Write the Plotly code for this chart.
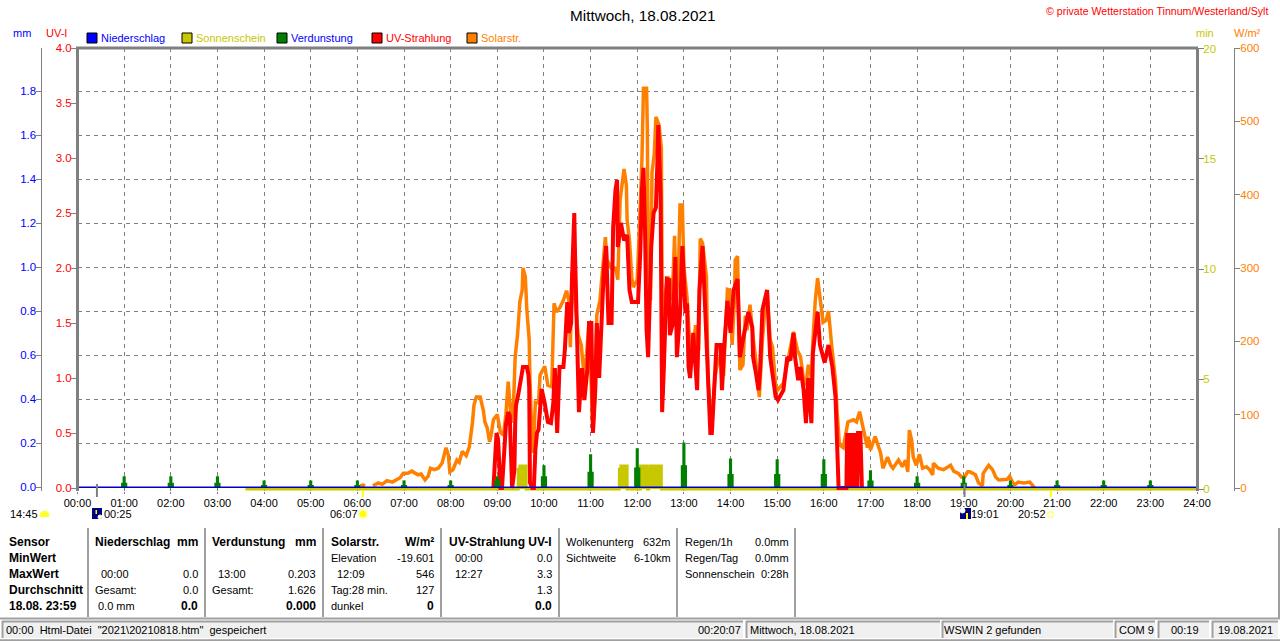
import plotly.graph_objects as go

# values, time in minutes since 00:00
hour_labels = ["%02d:00" % h for h in range(25)]
hour_ticks = [h * 60 for h in range(25)]

uv_labels = ["0.0", "0.5", "1.0", "1.5", "2.0", "2.5", "3.0", "3.5", "4.0"]
uv_ticks = [0, 0.5, 1, 1.5, 2, 2.5, 3, 3.5, 4]
mm_labels = ["0.0", "0.2", "0.4", "0.6", "0.8", "1.0", "1.2", "1.4", "1.6", "1.8"]
mm_ticks = [0, 0.2, 0.4, 0.6, 0.8, 1.0, 1.2, 1.4, 1.6, 1.8]
min_ticks = [0, 5, 10, 15, 20]
wm2_ticks = [0, 100, 200, 300, 400, 500, 600]

# UV-Strahlung (UV-I)
uv_t = [535, 537, 539, 541, 544, 546, 549, 551, 554, 556, 559, 562, 563, 564, 567, 569, 572, 573, 578, 580,
        581, 582, 585, 587, 589, 591, 593, 596, 597, 601, 605, 609, 612, 614, 617, 620, 625, 627, 630, 632,
        635, 636, 639, 640, 643, 645, 649, 652, 656, 658, 661, 663, 666, 668, 671, 674, 677, 680, 683, 687,
        689, 692, 694, 695, 699, 703, 707, 710, 713, 721, 724, 726, 728, 730, 732, 734, 737, 738, 741, 744,
        746, 747, 750, 752, 754, 756, 758, 761, 762, 766, 769, 771, 775, 778, 780, 782, 784, 786, 788, 792,
        797, 800, 804, 807, 811, 814, 816, 820, 822, 827, 829, 832, 836, 840, 844, 849, 850, 852, 856, 863,
        868, 869, 873, 876, 878, 881, 885, 887, 891, 895, 898, 901, 908, 913, 917, 921, 923, 927, 930, 934,
        937, 940, 944, 946, 949, 952, 955, 961, 966, 971, 975, 977, 979, 989, 990, 993, 995, 998, 1000, 1003,
        1004, 1007, 1009]
uv_v = [0, 0.3, 0.5, 0.44, 0, 0, 0.45, 0.57, 0.69, 0.66, 0, 0.16, 0.59, 0.75, 0.85, 0.95, 1.05, 1.1, 1.1, 1.03,
        0.92, 0.05, 0, 0, 0.35, 0.5, 0.53, 0.86, 0.9, 0.77, 0.6, 0.59, 0.77, 1.09, 0.5, 1.1, 1.1, 1.27, 1.69, 1.41,
        1.5, 1.89, 2.5, 2.12, 1.05, 0.69, 1.09, 0.8, 1.09, 1.5, 1.5, 0.5, 0.89, 1.5, 1.0, 1.5, 1.98, 2.2, 1.5, 1.5,
        2.37, 2.71, 2.8, 2.19, 2.41, 2.25, 2.3, 1.8, 1.69, 1.69, 2.16, 2.71, 2.91, 2.35, 1.44, 1.19, 1.8, 2.19, 2.5, 2.55,
        2.98, 3.3, 2.68, 0.69, 1.05, 1.5, 1.9, 1.89, 1.39, 1.5, 2.1, 1.19, 1.59, 2.2, 1.8, 1.59, 1.68, 1.1, 1.0, 1.41,
        0.89, 1.8, 2.2, 1.62, 0.95, 0.5, 0.5, 1.01, 1.3, 1.3, 0.89, 1.3, 1.7, 1.41, 1.8, 1.9, 1.5, 1.19, 1.35, 1.6,
        1.46, 1.19, 1.03, 0.89, 1.07, 1.62, 1.74, 1.8, 1.19, 0.95, 0.83, 0.8, 0.89, 1.19, 1.16, 1.41, 1.19, 0.98, 1.1, 0.89,
        0.59, 1.0, 0.59, 1.23, 1.44, 1.6, 1.3, 1.14, 1.3, 1.1, 0.83, 0.37, 0, 0, 0.5, 0, 0.5, 0, 0.5, 0,
        0.5, 0.5, 0]

# Solarstrahlung (W/m2), None marks the gap after the first blip
solar_t = [364, 367, 370, 375, 380, 387, 392, 398, 405, 411, 415, 419, 425, 430, 436, 438, 442, 447, 451, 454,
           459, 464, 469, 474, 477, 479, 483, 488, 491, 495, 500, 504, 508, 510, 513, 518, 522, 524, 527, 530,
           532, 535, 540, 543, 544, 548, 551, 554, 558, 561, 563, 566, 569, 572, 573, 576, 578, 581, 582, 585,
           586, 589, 593, 595, 598, 601, 605, 610, 613, 616, 621, 625, 629, 632, 634, 636, 640, 644, 648, 652,
           658, 663, 666, 668, 672, 676, 679, 681, 688, 692, 695, 698, 701, 703, 706, 707, 710, 713, 715, 720,
           724, 726, 728, 732, 733, 734, 737, 739, 742, 744, 748, 751, 752, 753, 755, 759, 762, 765, 768, 770,
           773, 775, 778, 780, 784, 788, 792, 795, 799, 801, 804, 809, 811, 814, 818, 820, 824, 827, 829, 831,
           833, 836, 839, 842, 845, 846, 849, 850, 852, 856, 859, 861, 865, 869, 872, 877, 881, 885, 887, 891,
           894, 898, 901, 908, 913, 921, 926, 930, 934, 937, 940, 944, 946, 949, 952, 955, 959, 963, 966, 970,
           975, 977, 980, 985, 991, 998, 1002, 1006, 1011, 1016, 1017, 1020, 1026, 1033, 1036, 1042, 1046, 1049, 1056, 1061,
           1065, 1068, 1070, 1073, 1075, 1079, 1083, 1087, 1092, 1096, 1100, 1101, 1107, 1114, 1123, 1127, 1133, 1137, 1141, 1145,
           1148, 1155, 1159, 1164, 1165, 1172, 1177, 1181, 1185, 1196, 1199, 1203, 1206, 1210, 1217, 1225, 1229, 1231]
solar_v = [3, 4, 3, None, 3, 7, 5, 10, 8, 11, 14, 20, 20, 23, 20, 18, 19, 11, 16, 27,
           25, 27, 34, 55, 45, 22, 25, 38, 35, 50, 44, 56, 89, 113, 124, 124, 106, 90, 82, 63,
           72, 93, 100, 86, 76, 72, 100, 145, 89, 120, 179, 209, 254, 270, 300, 288, 243, 202, 147, 56,
           48, 117, 116, 154, 161, 166, 140, 138, 252, 240, 247, 256, 269, 256, 192, 293, 256, 209, 195, 147,
           225, 75, 134, 236, 256, 311, 342, 311, 297, 301, 284, 393, 425, 435, 413, 365, 338, 286, 274, 284,
           389, 447, 545, 545, 488, 304, 256, 430, 457, 506, 495, 464, 256, 127, 256, 288, 284, 256, 344, 256,
           297, 386, 386, 301, 260, 188, 188, 222, 188, 340, 334, 288, 147, 106, 120, 151, 175, 179, 170, 153,
           202, 271, 270, 195, 256, 311, 316, 235, 161, 168, 235, 215, 250, 205, 179, 124, 202, 256, 270, 202,
           192, 140, 134, 143, 170, 213, 188, 179, 147, 140, 168, 151, 202, 256, 286, 256, 226, 229, 241, 195,
           147, 106, 59, 55, 90, 93, 90, 104, 79, 55, 70, 52, 70, 48, 27, 42, 31, 27, 38, 29,
           38, 22, 79, 65, 42, 31, 46, 27, 29, 25, 18, 34, 27, 25, 31, 23, 20, 15, 15, 22,
           22, 18, 7, 3, 20, 31, 25, 15, 11, 12, 16, 7, 5, 8, 7, 8, 3, 0]

# Sonnenschein (min), step line
sun_t = [216, 567, 569, 577, 697, 699, 707, 724, 733, 735, 737, 751, 1440]
sun_v = [0, 0.9, 1.05, 0, 0.9, 1.05, 0, 1.05, 0, 0.9, 1.05, 0, 0]

# Verdunstung (mm) per full hour, with the lower shoulder beside each spike
evap_hours = [60, 120, 180, 240, 300, 360, 420, 480, 540, 600, 660, 720, 780, 840, 900, 960, 1020, 1080, 1140, 1200, 1260, 1320, 1380]
evap_peak = [0.05, 0.05, 0.05, 0.03, 0.03, 0.03, 0.03, 0.03, 0.05, 0.1, 0.15, 0.177, 0.203, 0.13, 0.127, 0.127, 0.077, 0.05, 0.05, 0.03, 0.03, 0.03, 0.03]
evap_low = [0.02, 0.02, 0.02, 0.01, 0.01, 0.01, 0.01, 0.01, 0.03, 0.05, 0.07, 0.09, 0.1, 0.06, 0.06, 0.06, 0.03, 0.02, 0.02, 0.01, 0.01, 0.01, 0.01]

# Niederschlag (mm)
rain_t = [0, 1440]
rain_v = [0, 0]

# sun and moon times under the axis
moon_times = [25, 1141]
sun_times = [367, 1252]

GRAY = "#808080"
BLUE = "#0000ff"
RED = "#ff0000"
GREEN = "#008000"
OLIVE = "#c8c800"
ORANGE = "#ff8000"
FONT = "Liberation Sans"
W, H = 1280, 641


def px(x):
    return x / W


def py(y):
    return 1 - y / H


shapes = []
annotations = []


def text(x, y, s, color="black", size=11, anchor="left", bold=False):
    # annotations sit about a pixel inside their anchor
    shift = {"left": -1, "right": 1, "center": 0}[anchor]
    annotations.append(dict(
        x=px(x + shift), y=py(y), xref="paper", yref="paper", text="<b>%s</b>" % s if bold else s,
        showarrow=False, xanchor=anchor, yanchor="middle", borderpad=0,
        font=dict(family=FONT, size=12 if bold else size, color=color)))


def box(x0, y0, x1, y1, fill=None, line=None, width=1):
    shapes.append(dict(
        type="rect", xref="paper", yref="paper", x0=px(x0), x1=px(x1), y0=py(y0), y1=py(y1),
        fillcolor=fill or "rgba(0,0,0,0)", line=dict(color=line or "rgba(0,0,0,0)", width=width if line else 0)))


def hline(x0, x1, y, color="#a0a0a0", width=2):
    shapes.append(dict(type="line", xref="paper", yref="paper", x0=px(x0), x1=px(x1), y0=py(y), y1=py(y),
                       line=dict(color=color, width=width)))


def vline(x, y0, y1, color="#a0a0a0", width=2):
    shapes.append(dict(type="line", xref="paper", yref="paper", x0=px(x), x1=px(x), y0=py(y0), y1=py(y1),
                       line=dict(color=color, width=width)))


def blob(x0, y0, x1, y1, fill, line=None):
    shapes.append(dict(type="circle", xref="paper", yref="paper", x0=px(x0), x1=px(x1), y0=py(y0), y1=py(y1),
                       fillcolor=fill, line=dict(color=line or fill, width=1)))


fig = go.Figure()

# draw order follows the axes: solar, sunshine, UV, then evaporation and rain
fig.add_trace(go.Scatter(x=solar_t, y=solar_v, mode="lines", yaxis="y", connectgaps=False,
                         line=dict(color=ORANGE, width=3.5), name="Solarstr."))
fig.add_trace(go.Scatter(x=sun_t, y=sun_v, mode="lines", yaxis="y2", fill="tozeroy", fillcolor=OLIVE,
                         line=dict(color=OLIVE, width=3, shape="hv"), name="Sonnenschein"))
fig.add_trace(go.Scatter(x=uv_t, y=uv_v, mode="lines", yaxis="y3",
                         line=dict(color=RED, width=4), name="UV-Strahlung"))

for t, peak, low in zip(evap_hours, evap_peak, evap_low):
    fig.add_trace(go.Scatter(x=[t - 4, t - 2, t + 2, t + 4], y=[low, peak, low, 0], mode="lines", yaxis="y4",
                             fill="tozeroy", fillcolor=GREEN, line=dict(color=GREEN, width=0, shape="hv"),
                             name="Verdunstung", showlegend=False))
fig.add_trace(go.Scatter(x=rain_t, y=rain_v, mode="lines", yaxis="y4",
                         line=dict(color="#0000c8", width=1.5), name="Niederschlag"))

# the plot box runs 3 px below the zero line so the base lines are not clipped
dom_x = [px(77.5), px(1197)]
dom_y = [py(491), py(48)]
axis_line = dict(showline=True, linecolor=GRAY, ticks="outside", ticklen=5, tickcolor=GRAY, tickwidth=1,
                 showgrid=False, zeroline=False, fixedrange=True)

fig.update_layout(
    width=W, height=H,
    margin=dict(l=0, r=0, t=0, b=0, autoexpand=False),
    autosize=False,
    paper_bgcolor="white", plot_bgcolor="white",
    showlegend=False,
    font=dict(family=FONT, size=12, color="black"),
    xaxis=dict(domain=dom_x, range=[0, 1440], tickvals=hour_ticks, ticktext=hour_labels, tickangle=0,
               showgrid=True, gridcolor=GRAY, griddash="4px,4px", gridwidth=1, zeroline=False,
               showline=False, ticks="outside", ticklen=2, tickcolor=GRAY, ticklabelstandoff=0,
               tickfont=dict(family=FONT, size=11, color="black"), fixedrange=True),
    yaxis=dict(domain=dom_y, range=[-4.09, 600], anchor="free", position=px(1234), side="right",
               tickvals=wm2_ticks, linewidth=1, ticklabelstandoff=-2,
               tickfont=dict(family=FONT, size=11.5, color=ORANGE), **axis_line),
    # zero of the sunshine and rain axes sits apart so both base lines show
    yaxis2=dict(overlaying="y", range=[-0.0909, 20.045], anchor="free", position=px(1197), side="right",
                tickvals=min_ticks, linewidth=3, ticklabelstandoff=-3,
                tickfont=dict(family=FONT, size=11.5, color=OLIVE), **axis_line),
    yaxis3=dict(overlaying="y", range=[-0.0273, 4], anchor="free", position=px(77), side="left",
                tickvals=uv_ticks, ticktext=uv_labels, linewidth=3, ticklabelstandoff=-3,
                tickfont=dict(family=FONT, size=11.5, color=RED), **axis_line),
    yaxis4=dict(overlaying="y", range=[-0.0173, 1.9964], anchor="free", position=px(40.5), side="left",
                tickvals=mm_ticks, ticktext=mm_labels, linewidth=1, ticklabelstandoff=-3,
                tickfont=dict(family=FONT, size=11.5, color=BLUE),
                **{**axis_line, "showgrid": True, "gridcolor": GRAY, "griddash": "4px,4px", "gridwidth": 1}),
)

# top edge of the frame
hline(76, 1198, 48, GRAY, 3)

# sun and moon marks under the axis
for t in moon_times:
    shapes.append(dict(type="line", xref="x", yref="paper", x0=t, x1=t, y0=py(484), y1=py(497),
                       line=dict(color=GRAY, width=2)))
for t in sun_times:
    shapes.append(dict(type="line", xref="x", yref="paper", x0=t, x1=t, y0=py(490), y1=py(497),
                       line=dict(color="#ffff00", width=2)))

# title and header texts
text(642, 15, "Mittwoch, 18.08.2021", size=15.3, anchor="center")
text(1268, 11, "© private Wetterstation Tinnum/Westerland/Sylt", color=RED, size=10.6, anchor="right")
text(22, 33, "mm", color=BLUE, anchor="center")
text(56.5, 33, "UV-I", color=RED, anchor="center")
text(1205, 33, "min", color=OLIVE, anchor="center")
text(1247, 33, "W/m²", color=ORANGE, anchor="center")

legend_names = ["Niederschlag", "Sonnenschein", "Verdunstung", "UV-Strahlung", "Solarstr."]
legend_fill = [BLUE, OLIVE, GREEN, RED, ORANGE]
legend_text = [BLUE, OLIVE, BLUE, RED, ORANGE]
legend_x = [87, 182, 277, 372, 467]
for name, fill, col, x in zip(legend_names, legend_fill, legend_text, legend_x):
    box(x, 33, x + 10, 43, fill=fill, line="black", width=1)
    text(x + 14, 38, name, color=col)

# rise and set times
text(10, 514, "14:45")
text(104, 514, "00:25")
text(329.5, 514, "06:07")
text(971, 514, "19:01")
text(1017.5, 514, "20:52")

# daylight length icon
blob(40, 511, 49, 520, "#ffff30")
box(39, 517, 50, 521, fill="white")
# moonrise
box(92, 508, 102, 519, fill="#000080")
blob(98, 515, 102, 519, "white")
box(95.5, 510, 97, 514, fill="#ffff00")
# sunrise
blob(358, 509, 368, 519, "#ffffc0")
blob(360, 511, 366, 517, "#ffff00")
# moonset
box(960, 508, 971, 519, fill="#000080")
blob(960, 508, 965, 513, "white")
box(966, 513, 968, 519, fill="#ffff00")
# sunset
box(1048, 512, 1053, 517, fill="white", line="#ffff40", width=1)

# sensor table
rows = [541.5, 557.5, 573.5, 589.5, 605.5]
for y, s in zip(rows, ["Sensor", "MinWert", "MaxWert", "Durchschnitt", "18.08. 23:59"]):
    text(8.5, y, s, bold=True)

for x in [88, 205, 323, 441, 559, 677, 795]:
    vline(x, 528, 617)
vline(1279, 528, 618)

text(94.5, rows[0], "Niederschlag", bold=True)
text(198, rows[0], "mm", anchor="right", bold=True)
text(100.5, rows[2], "00:00")
text(198, rows[2], "0.0", anchor="right")
text(94.5, rows[3], "Gesamt:")
text(198, rows[3], "0.0", anchor="right")
text(97.5, rows[4], "0.0 mm")
text(198, rows[4], "0.0", anchor="right", bold=True)

text(212, rows[0], "Verdunstung", bold=True)
text(316, rows[0], "mm", anchor="right", bold=True)
text(218, rows[2], "13:00")
text(316, rows[2], "0.203", anchor="right")
text(212, rows[3], "Gesamt:")
text(316, rows[3], "1.626", anchor="right")
text(316, rows[4], "0.000", anchor="right", bold=True)

text(330.5, rows[0], "Solarstr.", bold=True)
text(434, rows[0], "W/m²", anchor="right", bold=True)
text(330.5, rows[1], "Elevation")
text(434, rows[1], "-19.601", anchor="right")
text(337, rows[2], "12:09")
text(434, rows[2], "546", anchor="right")
text(330.5, rows[3], "Tag:28 min.")
text(434, rows[3], "127", anchor="right")
text(330.5, rows[4], "dunkel")
text(434, rows[4], "0", anchor="right", bold=True)

text(448.5, rows[0], "UV-Strahlung UV-I", bold=True)
text(454.5, rows[1], "00:00")
text(552, rows[1], "0.0", anchor="right")
text(454.5, rows[2], "12:27")
text(552, rows[2], "3.3", anchor="right")
text(552, rows[3], "1.3", anchor="right")
text(552, rows[4], "0.0", anchor="right", bold=True)

text(566, rows[0], "Wolkenunterg")
text(671, rows[0], "632m", anchor="right")
text(566, rows[1], "Sichtweite")
text(671, rows[1], "6-10km", anchor="right")

text(684.5, rows[0], "Regen/1h")
text(789, rows[0], "0.0mm", anchor="right")
text(684.5, rows[1], "Regen/Tag")
text(789, rows[1], "0.0mm", anchor="right")
text(684.5, rows[2], "Sonnenschein")
text(789, rows[2], "0:28h", anchor="right")

# status bar
hline(0, 1280, 618.5)
hline(0, 1280, 640.3)
for x0, x1 in [(2, 743), (746, 940), (942, 1113), (1115, 1155), (1158, 1209), (1212, 1278)]:
    box(x0, 621, x1, 638, fill="#f0f0f0")
    hline(x0, x1, 621.5)
    vline(x0 + 0.5, 621, 638)

text(6, 630, '00:00&nbsp;&nbsp;Html-Datei&nbsp;&nbsp;"2021\\20210818.htm"&nbsp;&nbsp;gespeichert')
text(741, 630, "00:20:07", anchor="right")
text(750, 630, "Mittwoch, 18.08.2021")
text(944, 630, "WSWIN 2 gefunden")
text(1119, 630, "COM 9")
text(1171, 630, "00:19")
text(1218, 630, "19.08.2021")

fig.update_layout(shapes=shapes, annotations=annotations)

fig.write_html("out.html", config={"displayModeBar": False},
               post_script="document.body.style.margin='0';document.body.style.overflow='hidden';")
